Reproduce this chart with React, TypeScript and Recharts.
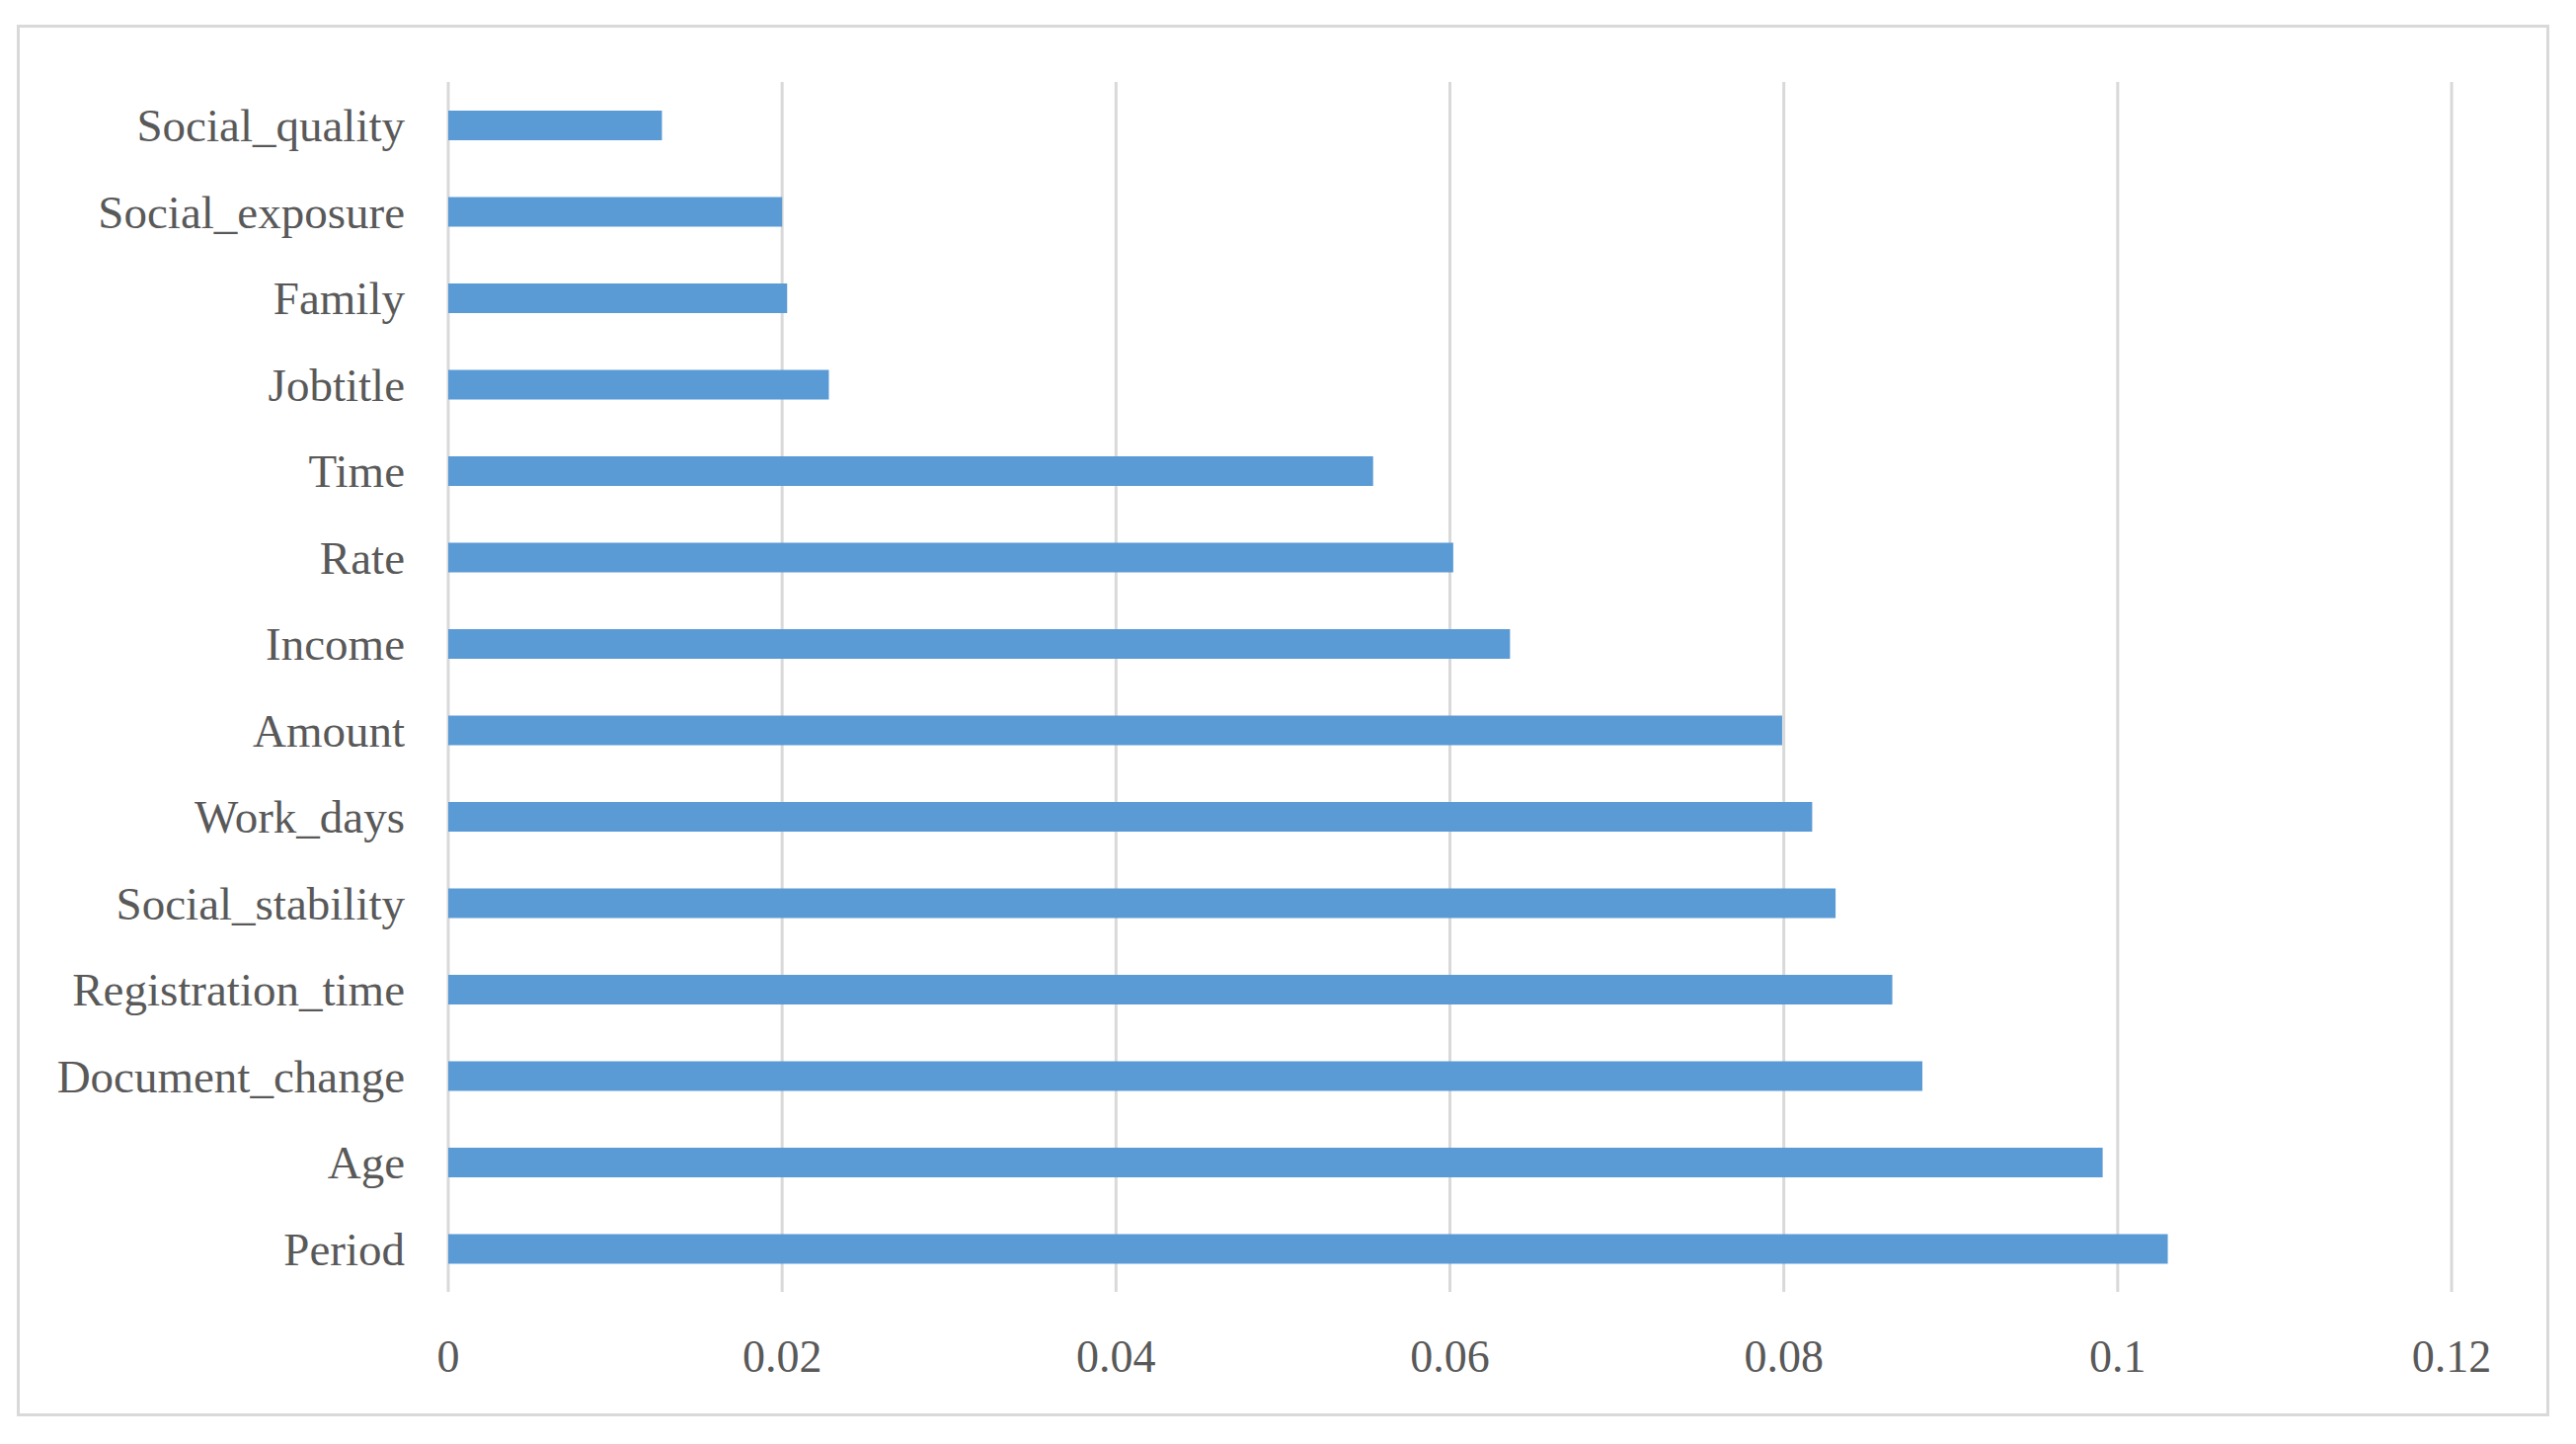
import { BarChart, Bar, XAxis, YAxis, CartesianGrid } from "recharts";

// feature names, top to bottom as drawn
const features = [
  "Social_quality",
  "Social_exposure",
  "Family",
  "Jobtitle",
  "Time",
  "Rate",
  "Income",
  "Amount",
  "Work_days",
  "Social_stability",
  "Registration_time",
  "Document_change",
  "Age",
  "Period",
];

const importance = [
  0.0128, 0.02, 0.0203, 0.0228, 0.0554, 0.0602, 0.0636,
  0.0799, 0.0817, 0.0831, 0.0865, 0.0883, 0.0991, 0.103,
];

const xTicks = [0, 0.02, 0.04, 0.06, 0.08, 0.1, 0.12];

const BAR_COLOR = "#5B9BD5";
const GRID_COLOR = "#d9d9d9";
const TEXT_COLOR = "#595959";
const FONT = "'Liberation Serif', 'Times New Roman', serif";

export default function App() {
  const chartData = features.map((name, i) => ({ name, value: importance[i] }));

  return (
    <div
      style={{
        position: "absolute",
        left: 0,
        top: 0,
        width: 2609,
        height: 1462,
        background: "#fff",
      }}
    >
      {/* outer chart frame */}
      <div
        style={{
          position: "absolute",
          left: 17,
          top: 25,
          width: 2565,
          height: 1409,
          border: "3px solid #d9d9d9",
          boxSizing: "border-box",
        }}
      />
      <div style={{ position: "absolute", left: 0, top: 0 }}>
        <BarChart
          width={2609}
          height={1462}
          data={chartData}
          layout="vertical"
          margin={{ top: 83, right: 126, bottom: 124, left: 0 }}
          barSize={30}
        >
          <CartesianGrid horizontal={false} stroke={GRID_COLOR} strokeWidth={3} />
          <XAxis
            type="number"
            domain={[0, 0.12]}
            ticks={xTicks}
            height={30}
            axisLine={false}
            tickLine={false}
            tickSize={0}
            tickMargin={48}
            tick={{ fill: TEXT_COLOR, fontSize: 46, fontFamily: FONT }}
          />
          <YAxis
            type="category"
            dataKey="name"
            width={454}
            axisLine={false}
            tickLine={false}
            tickSize={0}
            tickMargin={44}
            interval={0}
            tick={{ fill: TEXT_COLOR, fontSize: 47, fontFamily: FONT }}
          />
          <Bar dataKey="value" fill={BAR_COLOR} isAnimationActive={false} />
        </BarChart>
      </div>
    </div>
  );
}
